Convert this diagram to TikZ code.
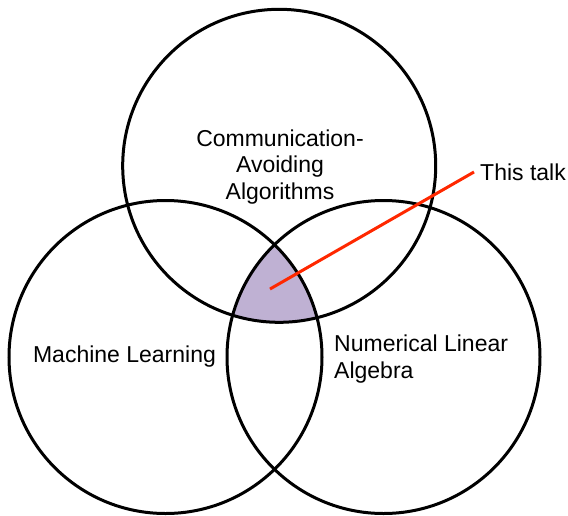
\documentclass[tikz,border=0pt]{standalone}
\usepackage{fontspec}
\setmainfont{Liberation Sans}
\begin{document}
\begin{tikzpicture}[x=1pt,y=-1pt,
  ring/.style={draw=black,line width=3pt},
  label/.style={font=\fontsize{23}{26.5}\selectfont,inner sep=0pt},
  pointer/.style={draw={rgb,255:red,255;green,40;blue,0},line width=3pt}]
\useasboundingbox (0,0) rectangle (568,515);
\def\rad{156.5}
% circle centres
\coordinate (cA) at (279.2,165.8);
\coordinate (cM) at (165.5,357);
\coordinate (cN) at (383.5,357);
% common region of all three sets
\begin{scope}
  \clip (cA) circle (\rad);
  \clip (cM) circle (\rad);
  \fill[fill={rgb,255:red,191;green,177;blue,211}] (cN) circle (\rad);
\end{scope}
\draw[ring] (cA) circle (\rad);
\draw[ring] (cM) circle (\rad);
\draw[ring] (cN) circle (\rad);
% labels
\node[label,align=center] (ca) at (280,167) {Communication-\\Avoiding\\Algorithms};
\node[label] (ml) at (124.5,357) {Machine Learning};
\node[label,align=left,anchor=west] (nla) at (334,359) {Numerical Linear\\Algebra};
\node[label,anchor=west,inner sep=6pt] (talk) at (474,172) {This talk};
% pointer into the shared region
\coordinate (spot) at (270,289);
\draw[pointer] (spot) -- (talk.west);
\end{tikzpicture}
\end{document}
